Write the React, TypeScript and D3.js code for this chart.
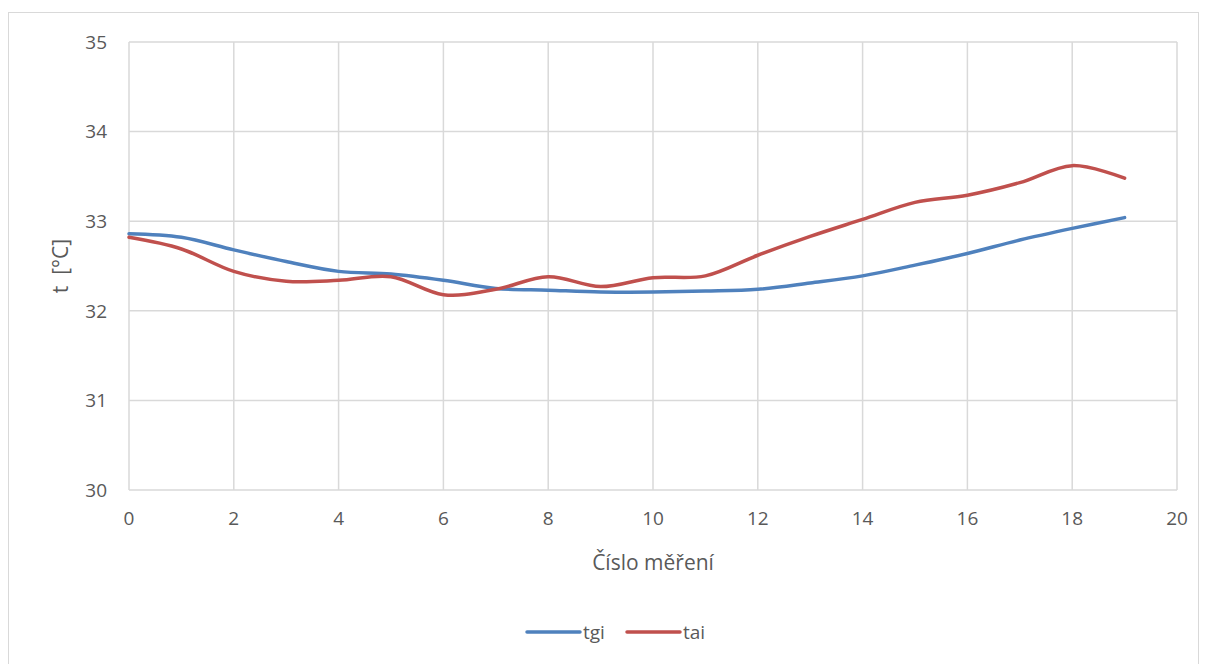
import React from "react";
import * as d3 from "d3";

// Measurement index 0..19
const measurements = d3.range(0, 20);
const tgi = [32.86, 32.82, 32.68, 32.55, 32.44, 32.41, 32.34, 32.25, 32.23, 32.21, 32.21, 32.22, 32.24, 32.31, 32.39, 32.51, 32.64, 32.79, 32.92, 33.04];
const tai = [32.82, 32.69, 32.44, 32.33, 32.34, 32.38, 32.18, 32.24, 32.38, 32.27, 32.37, 32.39, 32.62, 32.83, 33.02, 33.21, 33.29, 33.43, 33.62, 33.48];
const xTicks = [0, 2, 4, 6, 8, 10, 12, 14, 16, 18, 20];
const yTicks = [30, 31, 32, 33, 34, 35];

const seriesList = [
  { name: "tgi", values: tgi, color: "#4F81BD" },
  { name: "tai", values: tai, color: "#C0504D" },
];

const W = 1207;
const H = 664;
const plot = { left: 129, right: 1177, top: 42, bottom: 490 };
const font = "'Open Sans', 'Liberation Sans', sans-serif";
const textColor = "#595959";
const gridColor = "#D9D9D9";

export default function App() {
  const x = d3.scaleLinear().domain([0, 20]).range([plot.left, plot.right]);
  const y = d3.scaleLinear().domain([30, 35]).range([plot.bottom, plot.top]);
  const line = d3
    .line<number>()
    .x((_, i) => x(measurements[i]))
    .y((v) => y(v))
    .curve(d3.curveCardinal.tension(0));

  return (
    <svg
      width={W}
      height={H}
      style={{ position: "absolute", left: 0, top: 0, background: "#fff" }}
    >
      <rect x={8.5} y={12.5} width={1190} height={670} fill="#fff" stroke="#D9D9D9" strokeWidth={1} />
      {yTicks.map((t) => (
        <line key={"h" + t} x1={plot.left} x2={plot.right} y1={y(t)} y2={y(t)} stroke={gridColor} strokeWidth={1.5} />
      ))}
      {xTicks.map((t) => (
        <line key={"v" + t} x1={x(t)} x2={x(t)} y1={plot.top} y2={plot.bottom} stroke={gridColor} strokeWidth={1.5} />
      ))}
      {yTicks.map((t) => (
        <text key={"yl" + t} x={plot.left - 22} y={y(t)} dy="0.36em" textAnchor="end" fontFamily={font} fontSize={19} fill={textColor}>
          {t}
        </text>
      ))}
      {xTicks.map((t) => (
        <text key={"xl" + t} x={x(t)} y={plot.bottom + 35} textAnchor="middle" fontFamily={font} fontSize={19} fill={textColor}>
          {t}
        </text>
      ))}
      <text x={653} y={570} textAnchor="middle" fontFamily={font} fontSize={21} fill={textColor}>
        Číslo měření
      </text>
      <text
        transform={`translate(68, ${(plot.top + plot.bottom) / 2}) rotate(-90)`}
        textAnchor="middle"
        fontFamily={font}
        fontSize={21}
        fill={textColor}
        xmlSpace="preserve"
      >
        t  [°C]
      </text>
      {seriesList.map((s) => (
        <path key={s.name} d={line(s.values) || ""} fill="none" stroke={s.color} strokeWidth={3.5} strokeLinecap="round" />
      ))}
      {seriesList.map((s, i) => {
        const lx = 527 + i * 100;
        return (
          <g key={"lg" + s.name}>
            <line x1={lx} x2={lx + 53} y1={632} y2={632} stroke={s.color} strokeWidth={3.5} strokeLinecap="round" />
            <text x={lx + 56} y={632} dy="0.36em" fontFamily={font} fontSize={19} fill={textColor}>
              {s.name}
            </text>
          </g>
        );
      })}
    </svg>
  );
}
